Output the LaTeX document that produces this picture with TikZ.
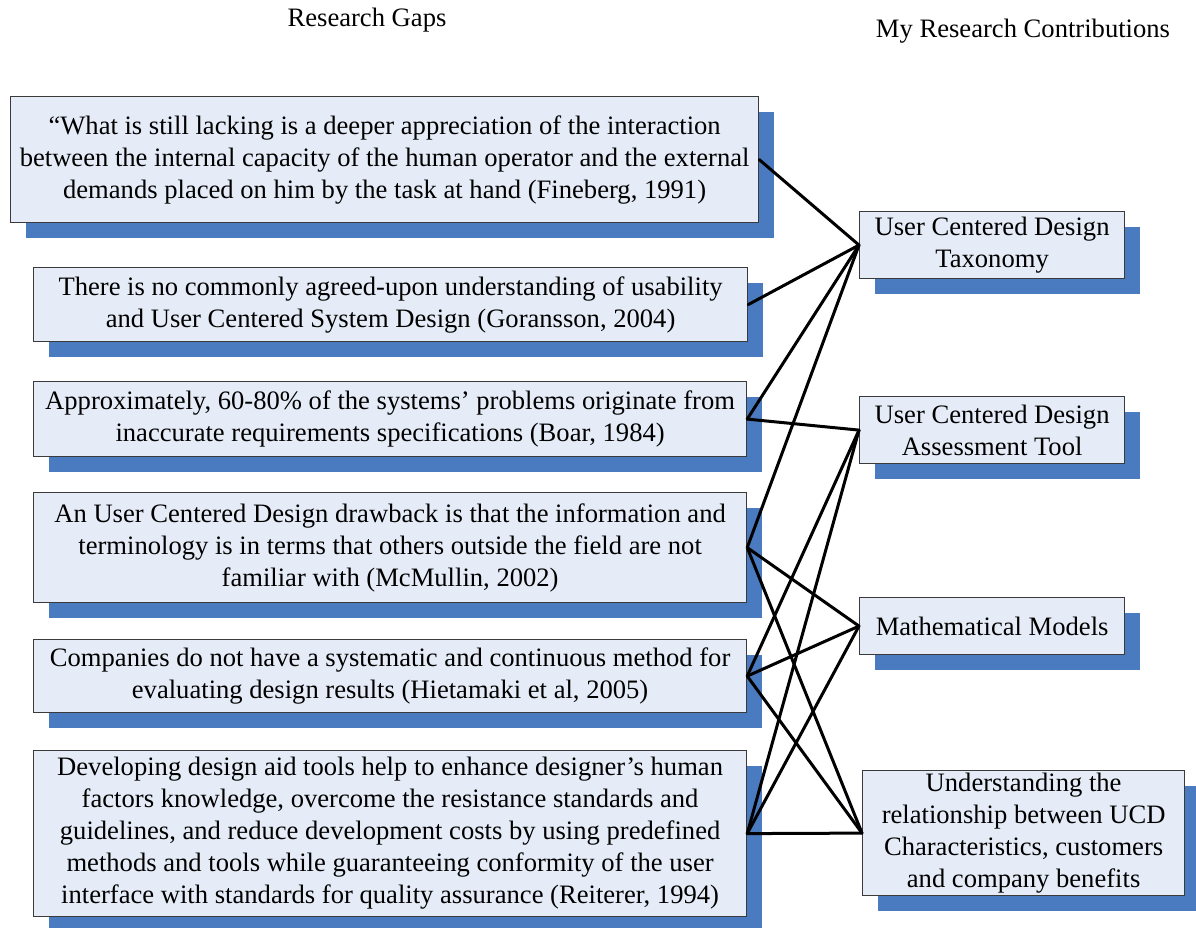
\documentclass[tikz,border=0pt]{standalone}
\usepackage{fontspec}
\setmainfont{Liberation Serif}
\usetikzlibrary{shadows}
\definecolor{boxfill}{HTML}{E6ECF7}
\definecolor{shadowblue}{HTML}{4A7BC0}
\definecolor{bordergray}{HTML}{3A3A3A}
\newcommand{\fs}{\fontsize{26.6}{32}\selectfont}
\tikzset{
  gapbox/.style={draw=bordergray, line width=1.2pt, fill=boxfill, align=center,
    anchor=north west, inner sep=0pt, font=\fs,
    drop shadow={shadow xshift=15pt, shadow yshift=-15pt, fill=shadowblue, opacity=1}},
  title/.style={font=\fs, inner sep=0pt},
  link/.style={line width=3pt, black, line cap=round, line join=round}
}
\begin{document}
\begin{tikzpicture}[x=1pt,y=-1pt]
\useasboundingbox[fill=white] (0,0) rectangle (1196,928);
\node[title] (t1) at (367,20) {Research Gaps};
\node[title] (t2) at (1023,31) {My Research Contributions};

\node[gapbox, minimum width=748pt, minimum height=126pt] (L1) at (10,96)
 {“What is still lacking is a deeper appreciation of the interaction\\
  between the internal capacity of the human operator and the external\\
  demands placed on him by the task at hand (Fineberg, 1991)};
\node[gapbox, minimum width=714pt, minimum height=74pt] (L2) at (33,267)
 {There is no commonly agreed-upon understanding of usability\\
  and User Centered System Design (Goransson, 2004)};
\node[gapbox, minimum width=713pt, minimum height=75pt] (L3) at (33,381)
 {Approximately, 60-80\% of the systems’ problems originate from\\
  inaccurate requirements specifications (Boar, 1984)};
\node[gapbox, minimum width=713pt, minimum height=110pt] (L4) at (33,492)
 {An User Centered Design drawback is that the information and\\
  terminology is in terms that others outside the field are not\\
  familiar with (McMullin, 2002)};
\node[gapbox, minimum width=713pt, minimum height=73pt] (L5) at (33,639)
 {Companies do not have a systematic and continuous method for\\
  evaluating design results (Hietamaki et al, 2005)};
\node[gapbox, minimum width=713pt, minimum height=166pt] (L6) at (33,750)
 {Developing design aid tools help to enhance designer’s human\\
  factors knowledge, overcome the resistance standards and\\
  guidelines, and reduce development costs by using predefined\\
  methods and tools while guaranteeing conformity of the user\\
  interface with standards for quality assurance (Reiterer, 1994)};

\node[gapbox, minimum width=265pt, minimum height=67pt] (R1) at (859,211)
 {User Centered Design\\ Taxonomy};
\node[gapbox, minimum width=265pt, minimum height=67pt] (R2) at (859,396)
 {User Centered Design\\ Assessment Tool};
\node[gapbox, minimum width=265pt, minimum height=57pt] (R3) at (859,597)
 {Mathematical Models};
\node[gapbox, minimum width=322pt, minimum height=125pt] (R4) at (862,770)
 {Understanding the\\ relationship between UCD\\ Characteristics, customers\\ and company benefits};

\draw[link] (L1.east) -- (R1.west);
\draw[link] (L2.east) -- (R1.west);
\draw[link] (L3.east) -- (R1.west);
\draw[link] (L4.east) -- (R1.west);
\draw[link] (L3.east) -- (R2.west);
\draw[link] (L5.east) -- (R2.west);
\draw[link] (L6.east) -- (R2.west);
\draw[link] (L4.east) -- (R3.west);
\draw[link] (L5.east) -- (R3.west);
\draw[link] (L6.east) -- (R3.west);
\draw[link] (L4.east) -- (R4.west);
\draw[link] (L5.east) -- (R4.west);
\draw[link] (L6.east) -- (R4.west);
\end{tikzpicture}
\end{document}
